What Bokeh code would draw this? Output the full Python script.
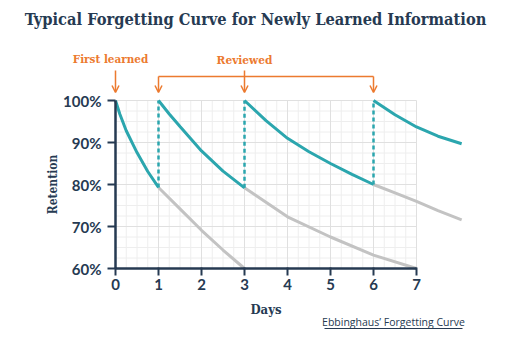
import numpy as np
from bokeh.plotting import figure
from bokeh.models import Label, Arrow, OpenHead, FixedTicker, PrintfTickFormatter, Range1d, LinearAxis
from bokeh.embed import file_html
from bokeh.resources import INLINE

# ---------------- data ----------------
day_ticks = [0, 1, 2, 3, 4, 5, 6, 7]
retention_ticks = [60, 70, 80, 90, 100]

# retention curves after each learning / review (teal)
teal1_x = [0, 0.1, 0.25, 0.5, 0.75, 1.0]
teal1_y = [100, 96.8, 92.8, 87.6, 83.1, 79.3]
teal2_x = [1, 1.25, 1.5, 2.0, 2.5, 3.0]
teal2_y = [100, 96.8, 93.8, 88.0, 83.2, 79.2]
teal3_x = [3, 3.5, 4.0, 4.5, 5.0, 5.5, 6.0]
teal3_y = [100, 95.2, 91.0, 87.8, 85.0, 82.4, 80.0]
teal4_x = [6, 6.5, 7.0, 7.5, 8.05]
teal4_y = [100, 96.6, 93.7, 91.5, 89.7]

# forgetting without review (gray)
gray1_x = [1, 1.5, 2.0, 2.5, 3.0]
gray1_y = [79.3, 74.2, 69.1, 64.4, 60.0]
gray2_x = [3, 4.0, 5.0, 6.0, 7.0]
gray2_y = [79.2, 72.3, 67.5, 63.2, 60.0]
gray3_x = [6, 6.5, 7.0, 7.5, 8.05]
gray3_y = [80.0, 78.0, 76.0, 73.8, 71.6]

first_learned_day = 0
review_days = [1, 3, 6]
review_low = [79.3, 79.2, 80.0]
review_high = [100, 100, 100]

title_text = "Typical Forgetting Curve for Newly Learned Information"
footer_text = "Ebbinghaus\u2019 Forgetting Curve"

# ---------------- style ----------------
NAVY = "#263a52"
TEAL = "#2ba6ae"
GRAY = "#c3c3c3"
ORANGE = "#ec7a2f"
GRID_MINOR = "#eeeeee"
GRID_MAJOR = "#e0e0e0"
SLAB = "'DejaVu Serif Condensed', 'DejaVu Serif'"
SANS = "Lato"

PX_X = 43.0   # pixels per day
PX_Y = 4.2    # pixels per percent
W, H = 510, 340
X0_PX, Y60_PX = 115, 268   # pixel position of day 0 / 60 %

p = figure(width=W, height=H,
           x_range=Range1d(-X0_PX / PX_X, (W - X0_PX) / PX_X),
           y_range=Range1d(60 - (H - Y60_PX) / PX_Y, 60 + Y60_PX / PX_Y),
           output_backend="svg", toolbar_location=None,
           x_axis_location=None, y_axis_location=None,
           min_border=0, min_border_left=0, min_border_right=0,
           min_border_top=0, min_border_bottom=0)
p.outline_line_color = None
p.xgrid.visible = False
p.ygrid.visible = False
p.background_fill_color = "white"
p.border_fill_color = "white"


def dx(px):
    return (px - X0_PX) / PX_X


def dy(py):
    return 60 + (Y60_PX - py) / PX_Y


# grid limited to the 0..7 / 60..100 box
gx = np.arange(0, 7.001, 0.25)
gy = np.arange(60, 100.001, 2.5)
gx_minor = [v for v in gx if abs(v - round(v)) > 1e-6]
gx_major = [v for v in gx if abs(v - round(v)) <= 1e-6]
gy_minor = [v for v in gy if abs(v % 10) > 1e-6]
gy_major = [v for v in gy if abs(v % 10) <= 1e-6]
p.segment(x0=gx_minor, y0=60, x1=gx_minor, y1=100, line_color=GRID_MINOR, line_width=1)
p.segment(x0=0, y0=gy_minor, x1=7, y1=gy_minor, line_color=GRID_MINOR, line_width=1)
p.segment(x0=gx_major, y0=60, x1=gx_major, y1=100, line_color=GRID_MAJOR, line_width=1)
p.segment(x0=0, y0=gy_major, x1=7, y1=gy_major, line_color=GRID_MAJOR, line_width=1)

# curves
for xs, ys in [(gray1_x, gray1_y), (gray2_x, gray2_y), (gray3_x, gray3_y)]:
    p.line(xs, ys, line_color=GRAY, line_width=3)
for xs, ys in [(teal1_x, teal1_y), (teal2_x, teal2_y), (teal3_x, teal3_y), (teal4_x, teal4_y)]:
    p.line(xs, ys, line_color=TEAL, line_width=3)
p.segment(x0=review_days, y0=review_low, x1=review_days, y1=review_high,
          line_color=TEAL, line_width=2.5, line_dash="4 3")

# axes (fixed at day 0 / 60 %)
xax = LinearAxis(fixed_location=60, bounds=(0, 7), ticker=FixedTicker(ticks=day_ticks))
xax.axis_line_color = NAVY
xax.axis_line_width = 2.5
xax.major_tick_line_color = NAVY
xax.major_tick_line_width = 2
xax.major_tick_out = 7
xax.major_tick_in = 1
xax.minor_tick_line_color = None
xax.major_label_text_font = SANS
xax.major_label_text_font_style = "bold"
xax.major_label_text_font_size = "15px"
xax.major_label_text_color = NAVY
xax.major_label_standoff = 3
xax.axis_label = "Days"
xax.axis_label_text_font = SLAB
xax.axis_label_text_font_style = "bold"
xax.axis_label_text_font_size = "13px"
xax.axis_label_text_color = NAVY
xax.axis_label_standoff = 9
p.add_layout(xax, "below")

yax = LinearAxis(fixed_location=0, bounds=(60, 100), ticker=FixedTicker(ticks=retention_ticks))
yax.formatter = PrintfTickFormatter(format="%d%%")
yax.axis_line_color = NAVY
yax.axis_line_width = 2.5
yax.major_tick_line_color = NAVY
yax.major_tick_line_width = 2
yax.major_tick_out = 8
yax.major_tick_in = 0
yax.minor_tick_line_color = None
yax.major_label_text_font = SANS
yax.major_label_text_font_style = "bold"
yax.major_label_text_font_size = "15px"
yax.major_label_text_color = NAVY
yax.major_label_standoff = 6
yax.axis_label = "Retention"
yax.axis_label_text_font = SLAB
yax.axis_label_text_font_style = "bold"
yax.axis_label_text_font_size = "12px"
yax.axis_label_text_color = NAVY
yax.axis_label_standoff = 0
p.add_layout(yax, "left")

# title
p.add_layout(Label(x=dx(255), y=dy(19), text=title_text, text_align="center",
                   text_baseline="middle", text_font=SLAB, text_font_style="bold",
                   text_font_size="16.3px", text_color=NAVY))

# annotations
p.add_layout(Label(x=dx(110), y=dy(58), text="First learned",
                   text_align="center", text_baseline="middle", text_font=SLAB,
                   text_font_style="bold", text_font_size="11.6px", text_color=ORANGE))
p.add_layout(Label(x=review_days[1], y=dy(59), text="Reviewed",
                   text_align="center", text_baseline="middle", text_font=SLAB,
                   text_font_style="bold", text_font_size="11.8px", text_color=ORANGE))

y_top_arrow = dy(70)
y_bracket = dy(76)
y_tip = dy(92)
p.add_layout(Arrow(end=OpenHead(size=7, line_color=ORANGE, line_width=1.5),
                   x_start=first_learned_day, y_start=y_top_arrow,
                   x_end=first_learned_day, y_end=y_tip,
                   line_color=ORANGE, line_width=1.5))
p.add_layout(Arrow(end=None, x_start=review_days[0], y_start=y_bracket,
                   x_end=review_days[-1], y_end=y_bracket,
                   line_color=ORANGE, line_width=1.5))
for d in review_days:
    ys = y_top_arrow if d == review_days[1] else y_bracket
    p.add_layout(Arrow(end=OpenHead(size=7, line_color=ORANGE, line_width=1.5),
                       x_start=d, y_start=ys, x_end=d, y_end=y_tip,
                       line_color=ORANGE, line_width=1.5))

# footer
p.add_layout(Label(x=dx(393), y=dy(321), text=footer_text, text_align="center",
                   text_baseline="middle", text_font="Open Sans",
                   text_font_size="10.5px", text_color=NAVY))
p.add_layout(Arrow(end=None, x_start=dx(324), y_start=dy(328), x_end=dx(462),
                   y_end=dy(328), line_color=NAVY, line_width=1))

open("out.html", "w").write(file_html(p, INLINE))
